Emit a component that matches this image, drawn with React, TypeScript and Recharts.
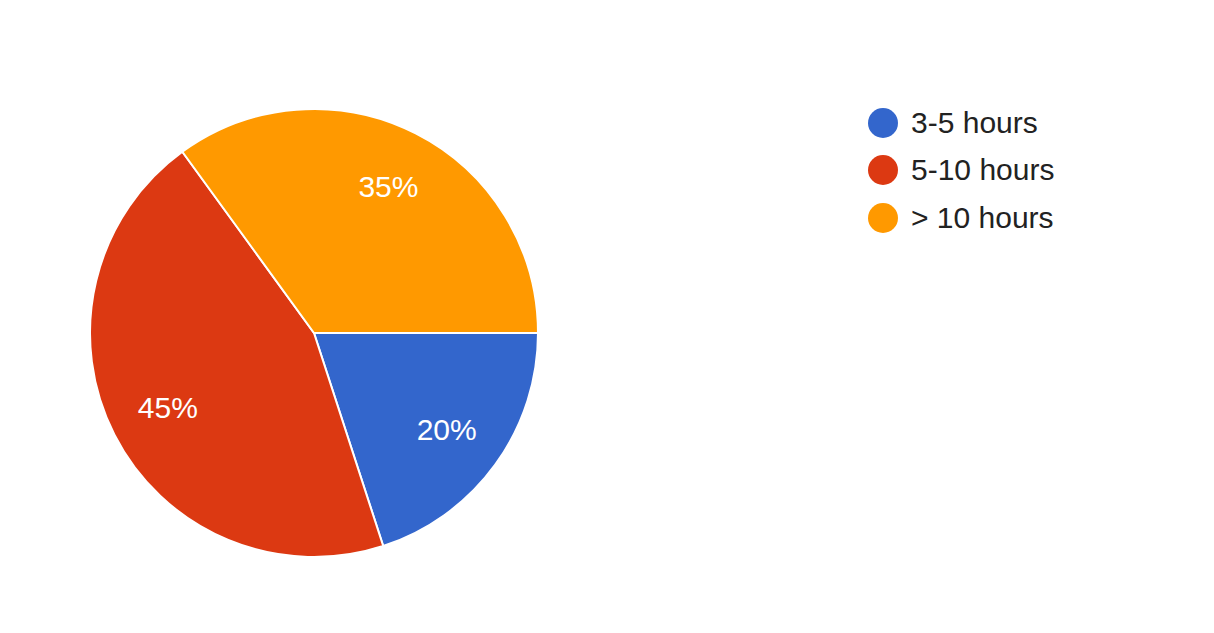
import React from "react";
import { PieChart, Pie, Cell, Legend } from "recharts";

const categories = ["3-5 hours", "5-10 hours", "> 10 hours"];
const values = [20, 45, 35];
const colors = ["#3366CC", "#DC3912", "#FF9900"];

const data = categories.map((name, i) => ({ name, value: values[i] }));

const RAD = Math.PI / 180;
const FONT = "'Liberation Sans', Arial, sans-serif";

const renderLabel = (props: any) => {
  const { cx, cy, midAngle, percent } = props;
  const r = 164;
  const x = cx + r * Math.cos(-midAngle * RAD);
  const y = cy + r * Math.sin(-midAngle * RAD);
  return (
    <text
      x={x}
      y={y}
      fill="#ffffff"
      textAnchor="middle"
      dominantBaseline="central"
      fontSize={30}
      fontFamily={FONT}
    >
      {`${Math.round(percent * 100)}%`}
    </text>
  );
};

const renderLegend = (props: any) => {
  const { payload } = props;
  return (
    <div style={{ fontFamily: FONT }}>
      {(payload || []).map((entry: any, i: number) => (
        <div
          key={i}
          style={{ display: "flex", alignItems: "center", height: 47.3 }}
        >
          <div
            style={{
              width: 30,
              height: 30,
              borderRadius: 15,
              background: entry.color,
              marginRight: 13,
              flexShrink: 0,
            }}
          />
          <span style={{ fontSize: 30, color: "#222222", whiteSpace: "nowrap" }}>
            {entry.value}
          </span>
        </div>
      ))}
    </div>
  );
};

export default function App() {
  return (
    <div style={{ position: "absolute", left: 0, top: 0, width: 1214, height: 633, background: "#fff" }}>
      <PieChart width={1214} height={633} margin={{ top: 0, right: 0, bottom: 0, left: 0 }}>
        <Pie
          data={data}
          dataKey="value"
          nameKey="name"
          cx={314}
          cy={333}
          outerRadius={224}
          startAngle={0}
          endAngle={-360}
          stroke="#ffffff"
          strokeWidth={2}
          label={renderLabel}
          labelLine={false}
          isAnimationActive={false}
        >
          {data.map((d, i) => (
            <Cell key={d.name} fill={colors[i]} />
          ))}
        </Pie>
        <Legend
          content={renderLegend}
          wrapperStyle={{ position: "absolute", left: 868, top: 99.5, width: 300 }}
        />
      </PieChart>
    </div>
  );
}
